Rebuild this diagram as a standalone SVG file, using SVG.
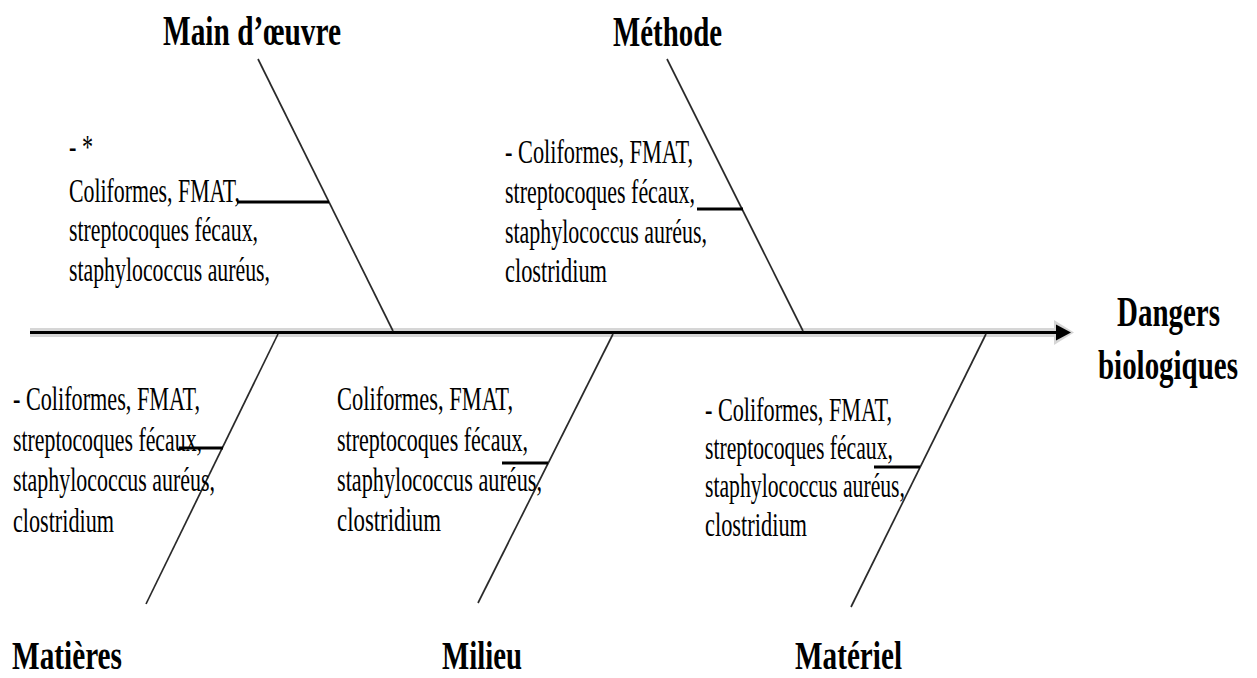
<svg xmlns="http://www.w3.org/2000/svg" width="1257" height="678" viewBox="0 0 1257 678">
<style>
.title{font-family:"Liberation Serif","Times New Roman",serif;font-weight:bold;font-size:43px;fill:#000}
.btitle{font-family:"Liberation Serif","Times New Roman",serif;font-weight:bold;font-size:41px;fill:#000}
.body{font-family:"Liberation Serif","Times New Roman",serif;font-size:33px;fill:#000}
.bone{stroke:#2a2a2a;stroke-width:1.7;fill:none}
.tick{stroke:#000;stroke-width:3;fill:none}
</style>
<rect width="1257" height="678" fill="#fff"/>
<g id="connectors">
  <line x1="30" y1="332.5" x2="1058" y2="332.5" stroke="#d6d6d6" stroke-width="9"/>
  <polygon points="1054,320 1054,345 1074,332.5" fill="#d6d6d6"/>
  <line x1="30" y1="332.5" x2="1058" y2="332.5" stroke="#000" stroke-width="3"/>
  <polygon points="1056,324.5 1056,340.5 1071,332.5" fill="#000"/>
  <line class="bone" x1="258" y1="59" x2="393" y2="331"/>
  <line class="tick" x1="237" y1="202" x2="329" y2="202"/>
  <line class="bone" x1="667" y1="59" x2="803" y2="331"/>
  <line class="tick" x1="697" y1="209" x2="743" y2="209"/>
  <line class="bone" x1="278" y1="334" x2="146" y2="604"/>
  <line class="tick" x1="179" y1="448" x2="223" y2="448"/>
  <line class="bone" x1="613" y1="334" x2="478" y2="603"/>
  <line class="tick" x1="502" y1="463" x2="548" y2="463"/>
  <line class="bone" x1="986" y1="334" x2="851" y2="607"/>
  <line class="tick" x1="874" y1="467" x2="920" y2="467"/>
</g>
<g id="effect">
  <text class="title" transform="translate(1117,326) scale(0.66,1)" x="0" y="0" textLength="156" lengthAdjust="spacingAndGlyphs">Dangers</text>
  <text class="title" transform="translate(1098,379) scale(0.66,1)" x="0" y="0" textLength="212" lengthAdjust="spacingAndGlyphs">biologiques</text>
</g>
<g id="main-oeuvre">
  <text class="title" x="163" y="45" textLength="178" lengthAdjust="spacingAndGlyphs">Main d’œuvre</text>
  <text class="body" x="69" y="158" textLength="24" lengthAdjust="spacingAndGlyphs">- *</text>
  <text class="body" x="69" y="202" textLength="171" lengthAdjust="spacingAndGlyphs">Coliformes, FMAT,</text>
  <text class="body" x="69" y="241" textLength="189" lengthAdjust="spacingAndGlyphs">streptocoques fécaux,</text>
  <text class="body" x="69" y="281" textLength="201" lengthAdjust="spacingAndGlyphs">staphylococcus auréus,</text>
</g>
<g id="methode">
  <text class="title" x="613" y="46" textLength="109" lengthAdjust="spacingAndGlyphs">Méthode</text>
  <text class="body" x="505" y="163" textLength="188" lengthAdjust="spacingAndGlyphs">- Coliformes, FMAT,</text>
  <text class="body" x="505" y="203" textLength="190" lengthAdjust="spacingAndGlyphs">streptocoques fécaux,</text>
  <text class="body" x="505" y="243" textLength="202" lengthAdjust="spacingAndGlyphs">staphylococcus auréus,</text>
  <text class="body" x="505" y="282" textLength="102" lengthAdjust="spacingAndGlyphs">clostridium</text>
</g>
<g id="matieres">
  <text class="btitle" x="12" y="669" textLength="110" lengthAdjust="spacingAndGlyphs">Matières</text>
  <text class="body" x="13" y="410" textLength="187" lengthAdjust="spacingAndGlyphs">- Coliformes, FMAT,</text>
  <text class="body" x="13" y="451" textLength="189" lengthAdjust="spacingAndGlyphs">streptocoques fécaux,</text>
  <text class="body" x="13" y="491" textLength="202" lengthAdjust="spacingAndGlyphs">staphylococcus auréus,</text>
  <text class="body" x="13" y="532" textLength="101" lengthAdjust="spacingAndGlyphs">clostridium</text>
</g>
<g id="milieu">
  <text class="btitle" x="442" y="669" textLength="80" lengthAdjust="spacingAndGlyphs">Milieu</text>
  <text class="body" x="337" y="410" textLength="176" lengthAdjust="spacingAndGlyphs">Coliformes, FMAT,</text>
  <text class="body" x="337" y="451" textLength="191" lengthAdjust="spacingAndGlyphs">streptocoques fécaux,</text>
  <text class="body" x="337" y="491" textLength="205" lengthAdjust="spacingAndGlyphs">staphylococcus auréus,</text>
  <text class="body" x="337" y="531" textLength="104" lengthAdjust="spacingAndGlyphs">clostridium</text>
</g>
<g id="materiel">
  <text class="btitle" x="795" y="669" textLength="107" lengthAdjust="spacingAndGlyphs">Matériel</text>
  <text class="body" x="705" y="421" textLength="187" lengthAdjust="spacingAndGlyphs">- Coliformes, FMAT,</text>
  <text class="body" x="705" y="459" textLength="188" lengthAdjust="spacingAndGlyphs">streptocoques fécaux,</text>
  <text class="body" x="705" y="497" textLength="200" lengthAdjust="spacingAndGlyphs">staphylococcus auréus,</text>
  <text class="body" x="705" y="536" textLength="102" lengthAdjust="spacingAndGlyphs">clostridium</text>
</g>
</svg>
